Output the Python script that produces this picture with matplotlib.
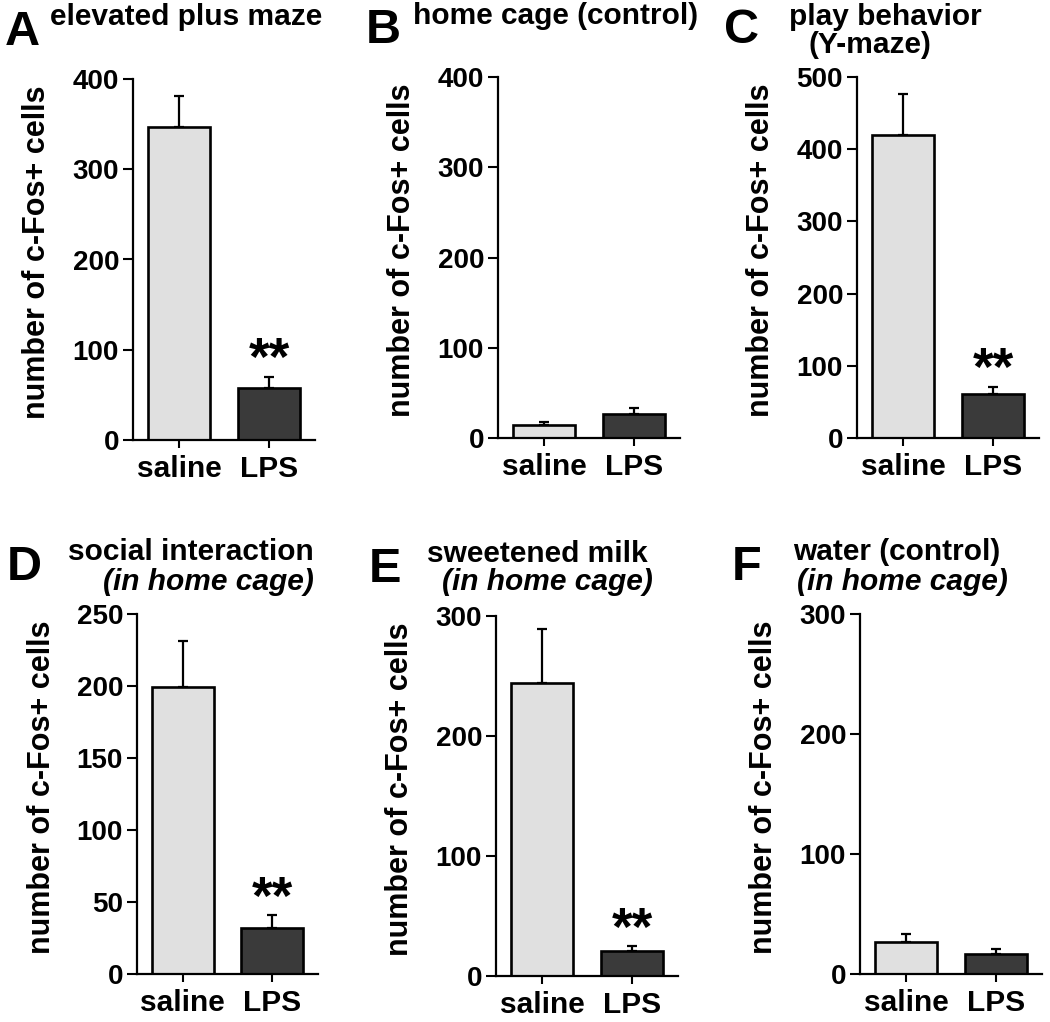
import matplotlib
matplotlib.use("Agg")
import matplotlib.pyplot as plt

plt.rcParams['font.family'] = ['Liberation Sans', 'DejaVu Sans']
plt.rcParams['font.weight'] = 'bold'

groups = ["saline", "LPS"]
colors = ["#e0e0e0", "#3a3a3a"]
ylabel = "number of c-Fos+ cells"

# values (mean) and SEM per panel
vals_A = [347, 58]
err_A = [34, 12]
vals_B = [14, 27]
err_B = [3.5, 6.5]
vals_C = [420, 61]
err_C = [56, 10]
vals_D = [199, 32]
err_D = [32, 9]
vals_E = [244, 21]
err_E = [45, 4]
vals_F = [27, 17]
err_F = [6.5, 3.5]

ymax_A, yticks_A = 400, [0, 100, 200, 300, 400]
ymax_B, yticks_B = 400, [0, 100, 200, 300, 400]
ymax_C, yticks_C = 500, [0, 100, 200, 300, 400, 500]
ymax_D, yticks_D = 250, [0, 50, 100, 150, 200, 250]
ymax_E, yticks_E = 300, [0, 100, 200, 300]
ymax_F, yticks_F = 300, [0, 100, 200, 300]

sig_A, sig_B, sig_C, sig_D, sig_E, sig_F = "**", "", "**", "**", "**", ""

W, H = 1050, 1022
fig = plt.figure(figsize=(W / 100, H / 100), dpi=100)


def rect(left, right, top, bottom):
    return [left / W, 1 - bottom / H, (right - left) / W, (bottom - top) / H]


def px(x, y):
    return x / W, 1 - y / H


panels = [
    (rect(133, 315, 79, 440), vals_A, err_A, ymax_A, yticks_A, sig_A),
    (rect(498, 680, 77, 438), vals_B, err_B, ymax_B, yticks_B, sig_B),
    (rect(857, 1039, 77, 438), vals_C, err_C, ymax_C, yticks_C, sig_C),
    (rect(137, 318, 614, 974), vals_D, err_D, ymax_D, yticks_D, sig_D),
    (rect(496, 678, 616, 976), vals_E, err_E, ymax_E, yticks_E, sig_E),
    (rect(860, 1042, 614, 974), vals_F, err_F, ymax_F, yticks_F, sig_F),
]

for r, vals, errs, ymax, yticks, sig in panels:
    ax = fig.add_axes(r)
    x = list(range(len(groups)))
    ax.errorbar(x, vals, yerr=[[0] * len(errs), errs], fmt='none',
                ecolor='black', elinewidth=1.6, capsize=3.5, capthick=1.6, zorder=1)
    ax.bar(x, vals, width=0.69, color=colors, edgecolor='black', linewidth=1.9, zorder=2)
    ax.set_xlim(-0.51, 1.51)
    ax.set_ylim(0, ymax)
    ax.set_yticks(yticks)
    ax.set_xticks(x)
    ax.set_xticklabels(groups, fontsize=21.5, fontweight='bold')
    ax.tick_params(axis='y', labelsize=20, length=7, width=1.5, pad=3)
    ax.tick_params(axis='x', length=6, width=1.5, pad=5)
    for lab in ax.get_yticklabels():
        lab.set_fontweight('bold')
    ax.spines['top'].set_visible(False)
    ax.spines['right'].set_visible(False)
    ax.spines['left'].set_linewidth(1.6)
    ax.spines['bottom'].set_linewidth(1.6)
    ax.set_ylabel(ylabel, fontsize=22, fontweight='bold', va='center')
    ax.yaxis.set_label_coords(-0.525, 0.52)
    if sig:
        ax.annotate(sig, xy=(1, vals[1] + errs[1]), xytext=(0, 1),
                    textcoords='offset points', ha='center', va='baseline',
                    fontsize=38, fontweight='bold')

letters = [("A", 5, 45), ("B", 366, 43), ("C", 724, 43),
           ("D", 7, 580), ("E", 369, 582), ("F", 732, 580)]
for t, xx, yy in letters:
    fig.text(*px(xx, yy), t, fontsize=35, fontweight='bold', va='baseline', ha='left')

titles = [
    ("elevated plus maze", 50, 25, 'normal', 'left'),
    ("home cage (control)", 413, 24, 'normal', 'left'),
    ("play behavior", 885, 25, 'normal', 'center'),
    ("(Y-maze)", 870, 53, 'normal', 'center'),
    ("social interaction", 68, 560, 'normal', 'left'),
    ("(in home cage)", 103, 590, 'italic', 'left'),
    ("sweetened milk", 427, 562, 'normal', 'left'),
    ("(in home cage)", 442, 590, 'italic', 'left'),
    ("water (control)", 793, 560, 'normal', 'left'),
    ("(in home cage)", 797, 590, 'italic', 'left'),
]
for t, xx, yy, st, ha in titles:
    fig.text(*px(xx, yy), t, fontsize=21.5, fontweight='bold', fontstyle=st,
             va='baseline', ha=ha)

fig.savefig("out.png", dpi=100)
